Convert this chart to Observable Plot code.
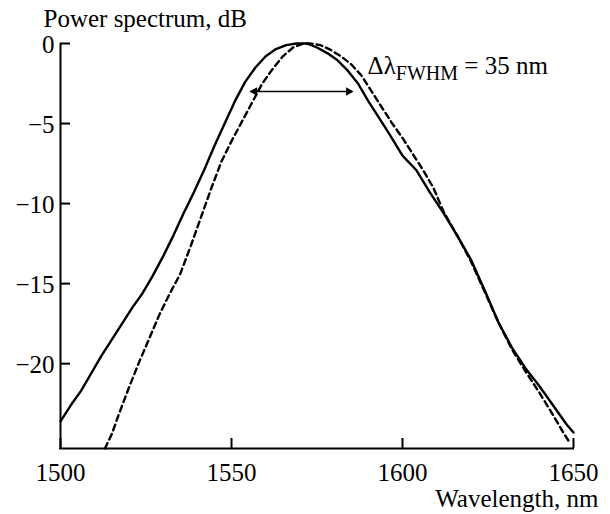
<!DOCTYPE html>
<html>
<head>
<meta charset="utf-8">
<script src="https://cdn.jsdelivr.net/npm/d3@7"></script>
<script src="https://cdn.jsdelivr.net/npm/@observablehq/plot@0.6"></script>
<style>
  html, body { margin: 0; padding: 0; background: #fff; }
</style>
</head>
<body>
<div id="chart"></div>
<script>
// ---- data ----
const solid = [
  [1500, -23.6], [1503, -22.6], [1506, -21.7], [1509, -20.6], [1512, -19.5],
  [1515, -18.5], [1518, -17.5], [1521, -16.5], [1524, -15.6], [1527, -14.5],
  [1530, -13.3], [1533, -12.0], [1536, -10.6], [1539, -9.3], [1542, -7.9],
  [1545, -6.4], [1548, -5.0], [1551, -3.6], [1554, -2.4], [1557, -1.5],
  [1560, -0.8], [1563, -0.35], [1566, -0.1], [1569, 0], [1572, 0],
  [1575, -0.25], [1578, -0.6], [1581, -1.05], [1584, -1.7], [1587, -2.5],
  [1590, -3.6], [1593, -4.6], [1596, -5.6], [1600, -7.0], [1604, -7.9],
  [1608, -9.3], [1612, -10.6], [1616, -12.0], [1620, -13.5], [1624, -15.4],
  [1628, -17.4], [1632, -19.0], [1636, -20.3], [1640, -21.4], [1644, -22.6],
  [1648, -23.8], [1650, -24.3]
];
const dashed = [
  [1513, -25.3], [1515, -24.4], [1517, -23.2], [1520, -21.5], [1523, -19.9],
  [1526, -18.4], [1529, -16.9], [1532, -15.6], [1535, -14.4], [1538, -12.7],
  [1541, -10.9], [1544, -9.1], [1547, -7.4], [1550, -6.1], [1553, -4.9],
  [1556, -3.7], [1559, -2.5], [1562, -1.6], [1565, -0.8], [1568, -0.25],
  [1571, 0], [1573, 0], [1576, -0.1], [1579, -0.4], [1582, -0.8],
  [1585, -1.3], [1588, -2.0], [1591, -3.0], [1594, -4.0], [1597, -5.0],
  [1600, -5.9], [1603, -6.9], [1606, -7.9], [1609, -9.0], [1612, -10.5],
  [1616, -12.0], [1620, -13.6], [1624, -15.5], [1628, -17.4], [1632, -19.1],
  [1636, -20.5], [1640, -21.8], [1644, -23.2], [1647, -24.3], [1648.5, -24.8]
];
const xTicks = [1500, 1550, 1600, 1650];
const xTickLabels = ["1500", "1550", "1600", "1650"];
const yTicks = [0, -5, -10, -15, -20];
const yTickLabels = ["0", "\u22125", "\u221210", "\u221215", "\u221220"];
const xDomain = [1500, 1650];
const yDomain = [-25.3, 0];
const fwhmArrow = [1555.6, 1585.4]; // wavelengths of the arrow ends
const fwhmLevel = -3;
const annMain = "\u0394\u03bb";
const annSub = "FWHM";
const annRest = " = 35 nm";
const yTitle = "Power spectrum, dB";
const xTitle = "Wavelength, nm";

// ---- layout ----
const W = 610, H = 514;
const mL = 60, mR = 37, mT = 43, mB = 66;
const FS = 25;
const FF = "Liberation Serif";
const pxPerNm = (W - mL - mR) / (xDomain[1] - xDomain[0]);
const pxPerDb = (H - mT - mB) / (yDomain[1] - yDomain[0]);
const tickPx = 10;

const chart = Plot.plot({
  width: W, height: H,
  marginLeft: mL, marginRight: mR, marginTop: mT, marginBottom: mB,
  x: {domain: xDomain, axis: null},
  y: {domain: yDomain, axis: null},
  marks: [
    // axis lines
    Plot.ruleX([xDomain[0]], {y1: yDomain[0], y2: 0, stroke: "#000", strokeWidth: 2}),
    Plot.ruleY([yDomain[0]], {x1: xDomain[0], x2: xDomain[1], stroke: "#000", strokeWidth: 2, strokeLinecap: "square"}),
    // inward ticks
    Plot.ruleY(yTicks, {y: d => d, x1: xDomain[0], x2: xDomain[0] + tickPx / pxPerNm, stroke: "#000", strokeWidth: 2}),
    Plot.ruleX(xTicks, {x: d => d, y1: yDomain[0], y2: yDomain[0] + tickPx / pxPerDb, stroke: "#000", strokeWidth: 2}),
    // tick labels
    Plot.text(yTicks, {x: xDomain[0], y: d => d, text: (d, i) => yTickLabels[i], textAnchor: "end", dx: -6, dy: 1, fontSize: FS, fontFamily: FF, fill: "#000"}),
    Plot.text(xTicks, {x: d => d, y: yDomain[0], text: (d, i) => xTickLabels[i], textAnchor: "middle", lineAnchor: "bottom", dy: 32, fontSize: FS, fontFamily: FF, fill: "#000"}),
    // axis titles
    Plot.text([yTitle], {x: xDomain[0], y: 0, text: d => d, textAnchor: "start", lineAnchor: "bottom", dx: -17, dy: -17, fontSize: FS, fontFamily: FF, fill: "#000"}),
    Plot.text([xTitle], {x: xDomain[1], y: yDomain[0], text: d => d, textAnchor: "end", lineAnchor: "bottom", dx: 25, dy: 58, fontSize: FS, fontFamily: FF, fill: "#000"}),
    // spectra
    Plot.line(solid, {x: d => d[0], y: d => d[1], stroke: "#000", strokeWidth: 2.4, curve: "linear"}),
    Plot.line(dashed, {x: d => d[0], y: d => d[1], stroke: "#000", strokeWidth: 2.4, strokeDasharray: "6,4", curve: "linear"}),
    // FWHM double arrow
    Plot.ruleY([fwhmLevel], {x1: fwhmArrow[0], x2: fwhmArrow[1], stroke: "#000", strokeWidth: 1.6}),
    Plot.dot([fwhmArrow[1]], {x: d => d, y: fwhmLevel, symbol: "triangle", r: 3.2, rotate: 90, dx: -4, fill: "#000", stroke: "none"}),
    Plot.dot([fwhmArrow[0]], {x: d => d, y: fwhmLevel, symbol: "triangle", r: 3.2, rotate: -90, dx: 4, fill: "#000", stroke: "none"}),
    // annotation
    Plot.text([annMain + annSub + annRest], {x: 1589.8, y: -1.9, text: d => d, textAnchor: "start", lineAnchor: "bottom", fontSize: FS, fontFamily: FF, fill: "#000"})
  ]
});

// rich text for subscript
d3.select(chart).selectAll("text").filter(function () {
  return this.textContent === annMain + annSub + annRest;
}).each(function () {
  const t = d3.select(this);
  t.text(null);
  t.append("tspan").text(annMain);
  t.append("tspan").attr("dy", 6).attr("font-size", 20).text(annSub);
  t.append("tspan").attr("dy", -6).text(annRest);
});

document.getElementById("chart").appendChild(chart);
</script>
</body>
</html>
